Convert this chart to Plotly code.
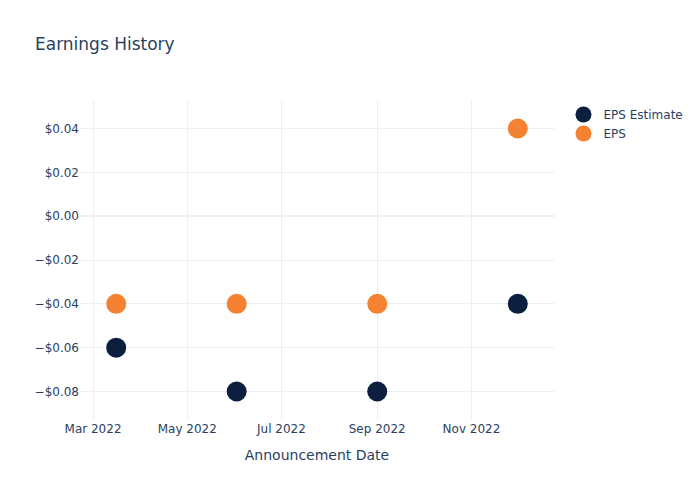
import plotly.graph_objects as go

dates = ["2022-03-16", "2022-06-02", "2022-09-01", "2022-12-01"]
eps_estimate = [-0.06, -0.08, -0.08, -0.04]
eps_actual = [-0.04, -0.04, -0.04, 0.04]

fig = go.Figure()
fig.add_trace(go.Scatter(x=dates, y=eps_estimate, mode="markers", name="EPS Estimate",
                         marker=dict(color="#0c1f3f", size=20)))
fig.add_trace(go.Scatter(x=dates, y=eps_actual, mode="markers", name="EPS",
                         marker=dict(color="#f58233", size=20)))
fig.update_layout(
    template="plotly_white",
    width=700, height=500,
    font=dict(family="DejaVu Sans"),
    title=dict(text="Earnings History"),
    xaxis=dict(title=dict(text="Announcement Date")),
    yaxis=dict(tickformat="$.2f"),
)
fig.write_html("out.html")
